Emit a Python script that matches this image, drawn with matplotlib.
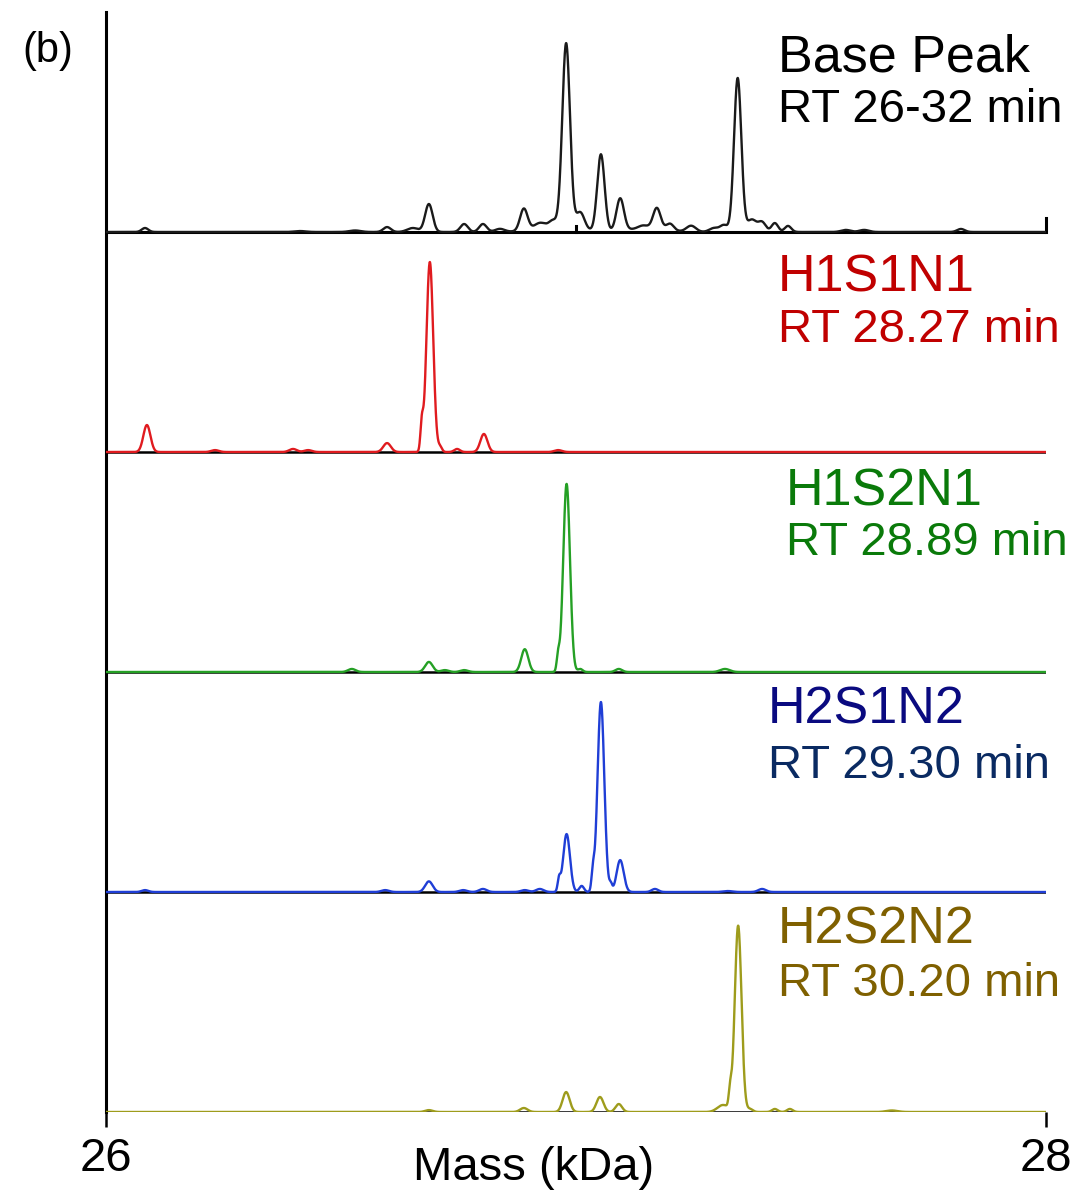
import numpy as np
import matplotlib
matplotlib.use("Agg")
import matplotlib.pyplot as plt

plt.rcParams['font.family'] = ['Liberation Sans', 'DejaVu Sans']

# ---------------- data (peak lists) ----------------
x_min, x_max = 26.0, 28.0
x_ticks = [26, 28]
x_label = "Mass (kDa)"
panel_label = "(b)"

trace_names = ["Base Peak", "H1S1N1", "H1S2N1", "H2S1N2", "H2S2N2"]
trace_rt = ["RT 26-32 min", "RT 28.27 min", "RT 28.89 min", "RT 29.30 min", "RT 30.20 min"]

# peak centres (kDa), relative intensities (%), widths (sigma, kDa)
base_c = [26.083, 26.413, 26.530, 26.598, 26.653, 26.687, 26.762, 26.802, 26.838,
          26.889, 26.923, 26.951, 26.979, 27.009, 27.053, 27.094, 27.143, 27.172,
          27.200, 27.245, 27.294, 27.315, 27.344, 27.374, 27.396, 27.423, 27.451,
          27.574, 27.613, 27.819, 26.960, 27.150]
base_h = [2.1, 0.5, 0.8, 2.6, 2.1, 14.7, 4.2, 4.2, 1.6,
          11.6, 3.0, 3.5, 97, 9.0, 40.5, 17.0, 1.5, 11.0,
          3.5, 3.2, 2.1, 3.5, 81, 6.5, 5.0, 4.7, 3.2,
          1.1, 1.1, 1.6, 2.6, 2.0]
base_w = [0.007, 0.012, 0.012, 0.008, 0.012, 0.008, 0.008, 0.008, 0.010,
          0.008, 0.012, 0.008, 0.0082, 0.009, 0.0078, 0.008, 0.010, 0.008,
          0.008, 0.010, 0.010, 0.008, 0.0078, 0.010, 0.008, 0.007, 0.007,
          0.010, 0.010, 0.008, 0.045, 0.040]

h1s1n1_c = [26.087, 26.232, 26.398, 26.430, 26.598, 26.672, 26.689, 26.711, 26.747, 26.804, 26.962]
h1s1n1_h = [14.2, 1.0, 1.6, 1.0, 4.7, 13.7, 100, 2.6, 1.6, 9.5, 1.0]
h1s1n1_w = [0.0075, 0.008, 0.008, 0.008, 0.008, 0.003, 0.0072, 0.004, 0.006, 0.0075, 0.008]

h1s2n1_c = [26.523, 26.687, 26.721, 26.762, 26.891, 26.962, 26.980, 27.009, 27.091, 27.317]
h1s2n1_h = [1.6, 5.3, 1.0, 1.0, 12.0, 7.9, 99, 1.6, 1.6, 1.6]
h1s2n1_w = [0.008, 0.008, 0.008, 0.008, 0.0075, 0.003, 0.0072, 0.005, 0.007, 0.010]

h2s1n2_c = [26.083, 26.594, 26.687, 26.760, 26.802, 26.891, 26.923, 26.964, 26.980,
            27.012, 27.036, 27.053, 27.074, 27.094, 27.168, 27.323, 27.396]
h2s1n2_h = [1.0, 1.0, 5.6, 1.0, 1.6, 1.0, 1.6, 6.3, 30.5,
            3.2, 9.5, 100, 3.7, 16.8, 1.6, 0.5, 1.6]
h2s1n2_w = [0.007, 0.008, 0.008, 0.008, 0.008, 0.008, 0.008, 0.003, 0.0072,
            0.005, 0.003, 0.0072, 0.003, 0.0075, 0.007, 0.010, 0.008]

h2s2n2_c = [26.687, 26.889, 26.979, 27.051, 27.091, 27.313, 27.328, 27.345, 27.370, 27.423, 27.455, 27.672]
h2s2n2_h = [1.0, 2.1, 10.5, 7.9, 4.2, 3.7, 8.9, 98, 1.6, 1.6, 1.6, 0.8]
h2s2n2_w = [0.008, 0.008, 0.0075, 0.0075, 0.007, 0.012, 0.003, 0.0072, 0.006, 0.006, 0.006, 0.012]

# ---------------- style ----------------
line_colors = ["#1a1a1a", "#e01b1f", "#25a025", "#1f3ed6", "#9e9c1c"]
text_colors = [("#000000", "#000000"), ("#c00000", "#c00000"), ("#0a7a0a", "#0a7a0a"),
               ("#0a0a80", "#0a2a62"), ("#7f6000", "#7f6000")]
text_pos = [(778, 71, 122), (778, 291, 342), (786, 506, 555), (768, 724, 778), (778, 943, 996)]

W, H = 1076, 1192
fig = plt.figure(figsize=(W / 100, H / 100), dpi=100)
ax_left, ax_right, ax_bottom, ax_top = 106, 1046, 1112, 12
ax = fig.add_axes([ax_left / W, 1 - ax_bottom / H, (ax_right - ax_left) / W, (ax_bottom - ax_top) / H])
panel_step = 220.0
scale = 1.9  # px per % intensity
ax.set_xlim(x_min, x_max)
ax.set_ylim(0, ax_bottom - ax_top)

xs = np.linspace(x_min, x_max, 6000)
peaks = [(base_c, base_h, base_w), (h1s1n1_c, h1s1n1_h, h1s1n1_w), (h1s2n1_c, h1s2n1_h, h1s2n1_w),
         (h2s1n2_c, h2s1n2_h, h2s1n2_w), (h2s2n2_c, h2s2n2_h, h2s2n2_w)]

n = len(peaks)
for i, (c, h, w) in enumerate(peaks):
    off = (n - 1 - i) * panel_step
    c = np.asarray(c)[:, None]
    h = np.asarray(h)[:, None]
    w = np.asarray(w)[:, None]
    ys = (h * np.exp(-0.5 * ((xs[None, :] - c) / w) ** 2)).sum(axis=0) * scale
    ax.axhline(off, color="black", lw=2.2 if i == 0 else 1.8, zorder=2)
    ax.plot(xs, off + ys, color=line_colors[i], lw=1.7, zorder=3, solid_joinstyle="round")

# small ticks on the top panel baseline
top_off = (n - 1) * panel_step
ax.plot([27.0, 27.0], [top_off, top_off + 6], color="black", lw=2.2, zorder=2)
ax.plot([28.0, 28.0], [top_off, top_off + 14], color="black", lw=2.2, zorder=2, clip_on=False)

for s in ["top", "right", "bottom"]:
    ax.spines[s].set_visible(False)
ax.spines["left"].set_linewidth(2.2)
ax.set_yticks([])
ax.set_xticks(x_ticks)
ax.set_xticklabels([str(t) for t in x_ticks])
ax.tick_params(axis="x", direction="out", length=11, width=1.8, pad=7, labelsize=34)

for i in range(n):
    x0, yb1, yb2 = text_pos[i]
    fig.text(x0 / W, 1 - yb1 / H, trace_names[i], fontsize=37.5, color=text_colors[i][0],
             ha="left", va="baseline")
    fig.text(x0 / W, 1 - yb2 / H, trace_rt[i], fontsize=34, color=text_colors[i][1],
             ha="left", va="baseline")

fig.text(22 / W, 1 - 62 / H, panel_label, fontsize=30, ha="left", va="baseline")
fig.text(534 / W, 1 - 1180 / H, x_label, fontsize=34, ha="center", va="baseline")

fig.savefig("out.png", dpi=100)
